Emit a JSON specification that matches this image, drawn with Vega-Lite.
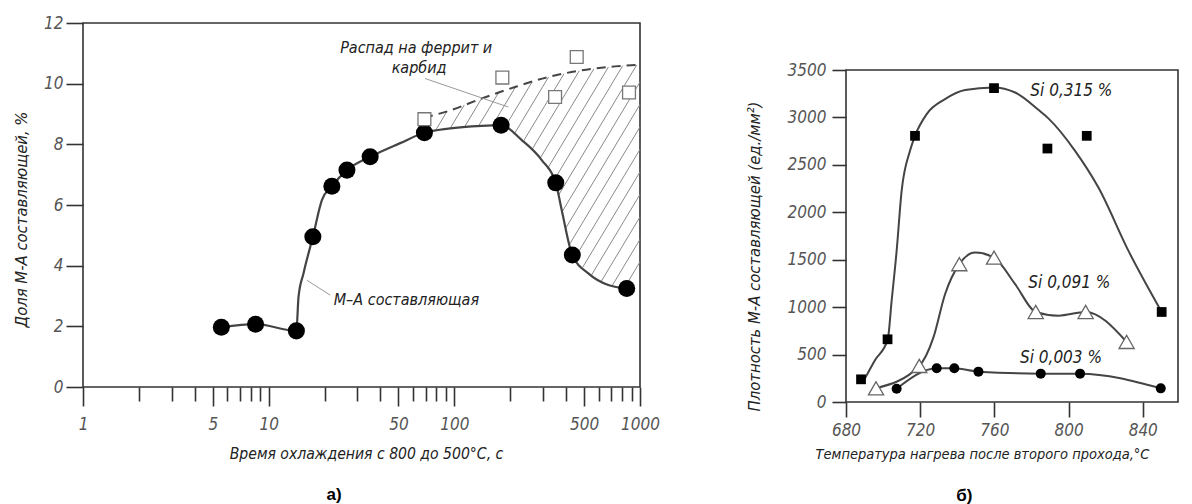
{
  "$schema": "https://vega.github.io/schema/vega-lite/v6.json",
  "padding": {"left": 12, "top": 13, "right": 5, "bottom": 5},
  "spacing": 84,
  "background": "white",
  "config": {
    "font": "Liberation Sans Narrow, DejaVu Sans Condensed, Liberation Sans, sans-serif",
    "view": {"stroke": "#333", "strokeWidth": 1.6},
    "axis": {
      "grid": false, "domain": false,
      "labelFontStyle": "italic", "titleFontStyle": "italic", "titleFontWeight": "normal",
      "labelColor": "#555", "titleColor": "#222", "tickColor": "#333", "tickWidth": 1.6,
      "labelFontSize": 17, "titleFontSize": 16, "labelOverlap": false, "labelFlush": false
    }
  },
  "datasets": {
    "hatch": [
      {"x": 68.7, "y": 8.574, "x2": 74.7, "y2": 8.943},
      {"x": 78.9, "y": 8.442, "x2": 91.3, "y2": 9.088},
      {"x": 95.0, "y": 8.528, "x2": 113.0, "y2": 9.295},
      {"x": 113.3, "y": 8.564, "x2": 140.0, "y2": 9.506},
      {"x": 135.1, "y": 8.603, "x2": 173.1, "y2": 9.704},
      {"x": 160.5, "y": 8.623, "x2": 213.9, "y2": 9.898},
      {"x": 186.5, "y": 8.547, "x2": 262.5, "y2": 10.059},
      {"x": 209.5, "y": 8.324, "x2": 321.7, "y2": 10.221},
      {"x": 234.9, "y": 8.090, "x2": 389.4, "y2": 10.323},
      {"x": 260.9, "y": 7.810, "x2": 470.7, "y2": 10.425},
      {"x": 289.5, "y": 7.533, "x2": 564.7, "y2": 10.491},
      {"x": 316.5, "y": 7.184, "x2": 675.8, "y2": 10.547},
      {"x": 344.4, "y": 6.818, "x2": 806.7, "y2": 10.590},
      {"x": 363.7, "y": 6.321, "x2": 960.0, "y2": 10.616},
      {"x": 380.7, "y": 5.777, "x2": 1000, "y2": 10.056},
      {"x": 399.1, "y": 5.247, "x2": 1000, "y2": 9.315},
      {"x": 418.3, "y": 4.713, "x2": 1000, "y2": 8.574},
      {"x": 445.7, "y": 4.252, "x2": 1000, "y2": 7.833},
      {"x": 492.0, "y": 3.953, "x2": 1000, "y2": 7.092},
      {"x": 547.4, "y": 3.686, "x2": 1000, "y2": 6.350},
      {"x": 619.7, "y": 3.491, "x2": 1000, "y2": 5.609},
      {"x": 707.7, "y": 3.337, "x2": 1000, "y2": 4.868},
      {"x": 823.0, "y": 3.264, "x2": 1000, "y2": 4.127}
    ],
    "ma_curve": [
      {"x": 5.56, "y": 1.97}, {"x": 8.5, "y": 2.07}, {"x": 14.1, "y": 1.85},
      {"x": 14.48, "y": 2.97}, {"x": 15.4, "y": 3.745}, {"x": 17.3, "y": 4.95},
      {"x": 19.35, "y": 6.16}, {"x": 21.9, "y": 6.62}, {"x": 26.37, "y": 7.15},
      {"x": 35.21, "y": 7.59}, {"x": 51.05, "y": 8.04}, {"x": 69.0, "y": 8.38},
      {"x": 92.9, "y": 8.52}, {"x": 140.6, "y": 8.61}, {"x": 178.5, "y": 8.63},
      {"x": 230.8, "y": 8.14}, {"x": 295.6, "y": 7.48}, {"x": 351.8, "y": 6.73},
      {"x": 378.9, "y": 5.83}, {"x": 432.0, "y": 4.35}, {"x": 526.8, "y": 3.745},
      {"x": 675.0, "y": 3.36}, {"x": 848.0, "y": 3.25}
    ],
    "ma_points": [
      {"x": 5.56, "y": 1.97}, {"x": 8.5, "y": 2.07}, {"x": 14.1, "y": 1.85},
      {"x": 17.3, "y": 4.95}, {"x": 21.9, "y": 6.62}, {"x": 26.4, "y": 7.15},
      {"x": 35.2, "y": 7.59}, {"x": 69.0, "y": 8.38}, {"x": 178.5, "y": 8.63},
      {"x": 351.8, "y": 6.73}, {"x": 432.0, "y": 4.35}, {"x": 848.0, "y": 3.25}
    ],
    "decomp_curve": [
      {"x": 68.7, "y": 8.88}, {"x": 92.9, "y": 9.10}, {"x": 140.6, "y": 9.51},
      {"x": 212.3, "y": 9.89}, {"x": 320.9, "y": 10.22}, {"x": 485.4, "y": 10.44},
      {"x": 733.6, "y": 10.57}, {"x": 1000, "y": 10.62}
    ],
    "decomp_points": [
      {"x": 69.0, "y": 8.83}, {"x": 181.4, "y": 10.20}, {"x": 348.9, "y": 9.56},
      {"x": 456.2, "y": 10.88}, {"x": 872.5, "y": 9.71}
    ],
    "leaders_a": [
      {"x": 69.6, "y": 10.17, "x2": 195.4, "y2": 9.23},
      {"x": 16.06, "y": 3.52, "x2": 21.44, "y2": 3.03}
    ],
    "notes_a_center": [
      {"x": 62.3, "y": 11.17, "text": "Распад на феррит и"},
      {"x": 64.6, "y": 10.51, "text": "карбид"}
    ],
    "notes_a_left": [
      {"x": 22.4, "y": 2.87, "text": "М–А составляющая"}
    ],
    "panel_a": [{"x": 22.5, "y": -3.56, "text": "а)"}],
    "curves_b": [
      {"series": "0.315", "x": 690, "y": 240}, {"series": "0.315", "x": 695.6, "y": 440},
      {"series": "0.315", "x": 702.5, "y": 660}, {"series": "0.315", "x": 704.6, "y": 1066},
      {"series": "0.315", "x": 707.3, "y": 1593}, {"series": "0.315", "x": 710, "y": 2226},
      {"series": "0.315", "x": 714.5, "y": 2648}, {"series": "0.315", "x": 717.2, "y": 2806},
      {"series": "0.315", "x": 723.5, "y": 3035}, {"series": "0.315", "x": 733.4, "y": 3193},
      {"series": "0.315", "x": 744.2, "y": 3289}, {"series": "0.315", "x": 759.5, "y": 3316},
      {"series": "0.315", "x": 771.2, "y": 3263}, {"series": "0.315", "x": 783.7, "y": 3080},
      {"series": "0.315", "x": 789.1, "y": 2990}, {"series": "0.315", "x": 803.5, "y": 2648},
      {"series": "0.315", "x": 816.1, "y": 2261}, {"series": "0.315", "x": 832.3, "y": 1593},
      {"series": "0.315", "x": 850.2, "y": 949},
      {"series": "0.091", "x": 696.2, "y": 145}, {"series": "0.091", "x": 719.5, "y": 380},
      {"series": "0.091", "x": 727.1, "y": 678}, {"series": "0.091", "x": 733.4, "y": 1136},
      {"series": "0.091", "x": 741.1, "y": 1453}, {"series": "0.091", "x": 749.6, "y": 1575},
      {"series": "0.091", "x": 759.8, "y": 1522}, {"series": "0.091", "x": 771.2, "y": 1242},
      {"series": "0.091", "x": 782.3, "y": 949}, {"series": "0.091", "x": 794.5, "y": 910},
      {"series": "0.091", "x": 809.2, "y": 949}, {"series": "0.091", "x": 831.3, "y": 633},
      {"series": "0.003", "x": 707.3, "y": 140}, {"series": "0.003", "x": 728.9, "y": 355},
      {"series": "0.003", "x": 738.4, "y": 355}, {"series": "0.003", "x": 751.4, "y": 320},
      {"series": "0.003", "x": 785.0, "y": 299}, {"series": "0.003", "x": 806.2, "y": 299},
      {"series": "0.003", "x": 849.7, "y": 144}
    ],
    "si315_pts": [
      {"x": 688.1, "y": 239}, {"x": 702.4, "y": 661}, {"x": 717.2, "y": 2806},
      {"x": 759.8, "y": 3309}, {"x": 788.6, "y": 2672}, {"x": 809.8, "y": 2806},
      {"x": 850.2, "y": 949}
    ],
    "si091_pts": [
      {"x": 696.2, "y": 145}, {"x": 719.5, "y": 380}, {"x": 741.1, "y": 1453},
      {"x": 759.8, "y": 1522}, {"x": 782.3, "y": 949}, {"x": 809.2, "y": 949},
      {"x": 831.3, "y": 633}
    ],
    "si003_pts": [
      {"x": 707.3, "y": 140}, {"x": 728.9, "y": 355}, {"x": 738.4, "y": 355},
      {"x": 751.4, "y": 320}, {"x": 785.0, "y": 299}, {"x": 806.2, "y": 299},
      {"x": 849.7, "y": 144}
    ],
    "notes_b": [
      {"x": 779.4, "y": 3281, "text": "Si 0,315 %"},
      {"x": 778.3, "y": 1259, "text": "Si 0,091 %"},
      {"x": 773.8, "y": 467, "text": "Si 0,003 %"}
    ],
    "panel_b": [{"x": 743.8, "y": -991.6, "text": "б)"}]
  },
  "hconcat": [
    {
      "width": 557,
      "height": 364,
      "encoding": {
        "x": {
          "field": "x", "type": "quantitative",
          "scale": {"type": "log", "domain": [1, 1000], "nice": false},
          "axis": {
            "values": [1, 2, 3, 4, 5, 6, 7, 8, 9, 10, 20, 30, 40, 50, 60, 70, 80, 90, 100, 200, 300, 400, 500, 600, 700, 800, 900, 1000],
            "format": "d",
            "labelExpr": "indexof([1,5,10,50,100,500,1000], datum.value) >= 0 ? datum.label : ''",
            "tickSize": {"condition": {"test": "indexof([1,5,10,50,100,500,1000], datum.value) >= 0", "value": 19}, "value": 14},
            "labelPadding": 10,
            "title": "Время охлаждения с 800 до 500°С, с",
            "titleX": 283, "titleY": 66, "titleBaseline": "middle", "titleAlign": "center",
            "titleFontSize": 15.6
          }
        },
        "y": {
          "field": "y", "type": "quantitative",
          "scale": {"domain": [0, 12], "nice": false, "zero": false},
          "axis": {
            "values": [0, 2, 4, 6, 8, 10, 12],
            "tickSize": 17, "labelPadding": 3,
            "title": "Доля М-А составляющей, %",
            "titleX": -62, "titleY": 196, "titleBaseline": "middle", "titleAlign": "center",
            "titleFontSize": 16.5
          }
        }
      },
      "layer": [
        {
          "data": {"name": "hatch"},
          "mark": {"type": "rule", "stroke": "#8a8a8a", "strokeWidth": 1},
          "encoding": {"x2": {"field": "x2"}, "y2": {"field": "y2"}}
        },
        {
          "data": {"name": "decomp_curve"},
          "mark": {"type": "line", "stroke": "#444", "strokeWidth": 2, "strokeDash": [9, 6], "interpolate": "monotone"}
        },
        {
          "data": {"name": "ma_curve"},
          "mark": {"type": "line", "stroke": "#444", "strokeWidth": 2.2, "interpolate": "monotone"}
        },
        {
          "data": {"name": "leaders_a"},
          "mark": {"type": "rule", "stroke": "#999", "strokeWidth": 1},
          "encoding": {"x2": {"field": "x2"}, "y2": {"field": "y2"}}
        },
        {
          "data": {"name": "ma_points"},
          "mark": {"type": "point", "shape": "circle", "filled": true, "fill": "#000", "size": 290, "opacity": 1}
        },
        {
          "data": {"name": "decomp_points"},
          "mark": {"type": "point", "shape": "square", "filled": true, "fill": "#fff", "stroke": "#777", "strokeWidth": 1.3, "size": 165, "opacity": 1}
        },
        {
          "data": {"name": "notes_a_center"},
          "mark": {"type": "text", "align": "center", "baseline": "middle", "fontStyle": "italic", "fontSize": 16, "color": "#222"},
          "encoding": {"text": {"field": "text"}}
        },
        {
          "data": {"name": "notes_a_left"},
          "mark": {"type": "text", "align": "left", "baseline": "middle", "fontStyle": "italic", "fontSize": 16, "color": "#222"},
          "encoding": {"text": {"field": "text"}}
        },
        {
          "data": {"name": "panel_a"},
          "mark": {"type": "text", "align": "center", "baseline": "middle", "fontWeight": "bold", "fontSize": 17, "font": "Liberation Sans, Arial, sans-serif", "color": "#000"},
          "encoding": {"text": {"field": "text"}}
        }
      ]
    },
    {
      "spacing": 0,
      "vconcat": [
        {
          "width": 332,
          "height": 37,
          "view": {"stroke": null},
          "data": {"values": []},
          "mark": {"type": "text"}
        },
        {
          "width": 332,
          "height": 332,
          "encoding": {
            "x": {
              "field": "x", "type": "quantitative",
              "scale": {"domain": [680, 859], "nice": false, "zero": false},
              "axis": {
                "values": [680, 720, 760, 800, 840], "format": "d",
                "tickSize": 15, "labelPadding": 5,
                "title": "Температура нагрева после второго прохода,°С",
                "titleX": 136, "titleY": 52, "titleBaseline": "middle", "titleAlign": "center",
                "titleFontSize": 14.5
              }
            },
            "y": {
              "field": "y", "type": "quantitative",
              "scale": {"domain": [0, 3500], "nice": false, "zero": false},
              "axis": {
                "values": [0, 500, 1000, 1500, 2000, 2500, 3000, 3500], "format": "d",
                "tickSize": 14, "labelPadding": 6,
                "title": "Плотность М-А составляющей (ед./мм²)",
                "titleX": -92, "titleY": 186, "titleBaseline": "middle", "titleAlign": "center",
                "titleFontSize": 16.5
              }
            }
          },
          "layer": [
            {
              "data": {"name": "curves_b"},
              "mark": {"type": "line", "stroke": "#444", "strokeWidth": 2, "interpolate": "monotone"},
              "encoding": {"detail": {"field": "series"}}
            },
            {
              "data": {"name": "si315_pts"},
              "mark": {"type": "point", "shape": "square", "filled": true, "fill": "#000", "size": 95, "opacity": 1}
            },
            {
              "data": {"name": "si091_pts"},
              "mark": {"type": "point", "shape": "triangle-up", "filled": true, "fill": "#fff", "stroke": "#666", "strokeWidth": 1.3, "size": 230, "opacity": 1}
            },
            {
              "data": {"name": "si003_pts"},
              "mark": {"type": "point", "shape": "circle", "filled": true, "fill": "#000", "size": 100, "opacity": 1}
            },
            {
              "data": {"name": "notes_b"},
              "mark": {"type": "text", "align": "left", "baseline": "middle", "fontStyle": "italic", "fontSize": 17, "color": "#222"},
              "encoding": {"text": {"field": "text"}}
            },
            {
              "data": {"name": "panel_b"},
              "mark": {"type": "text", "align": "center", "baseline": "middle", "fontWeight": "bold", "fontSize": 17, "font": "Liberation Sans, Arial, sans-serif", "color": "#000"},
              "encoding": {"text": {"field": "text"}}
            }
          ]
        }
      ]
    }
  ]
}
